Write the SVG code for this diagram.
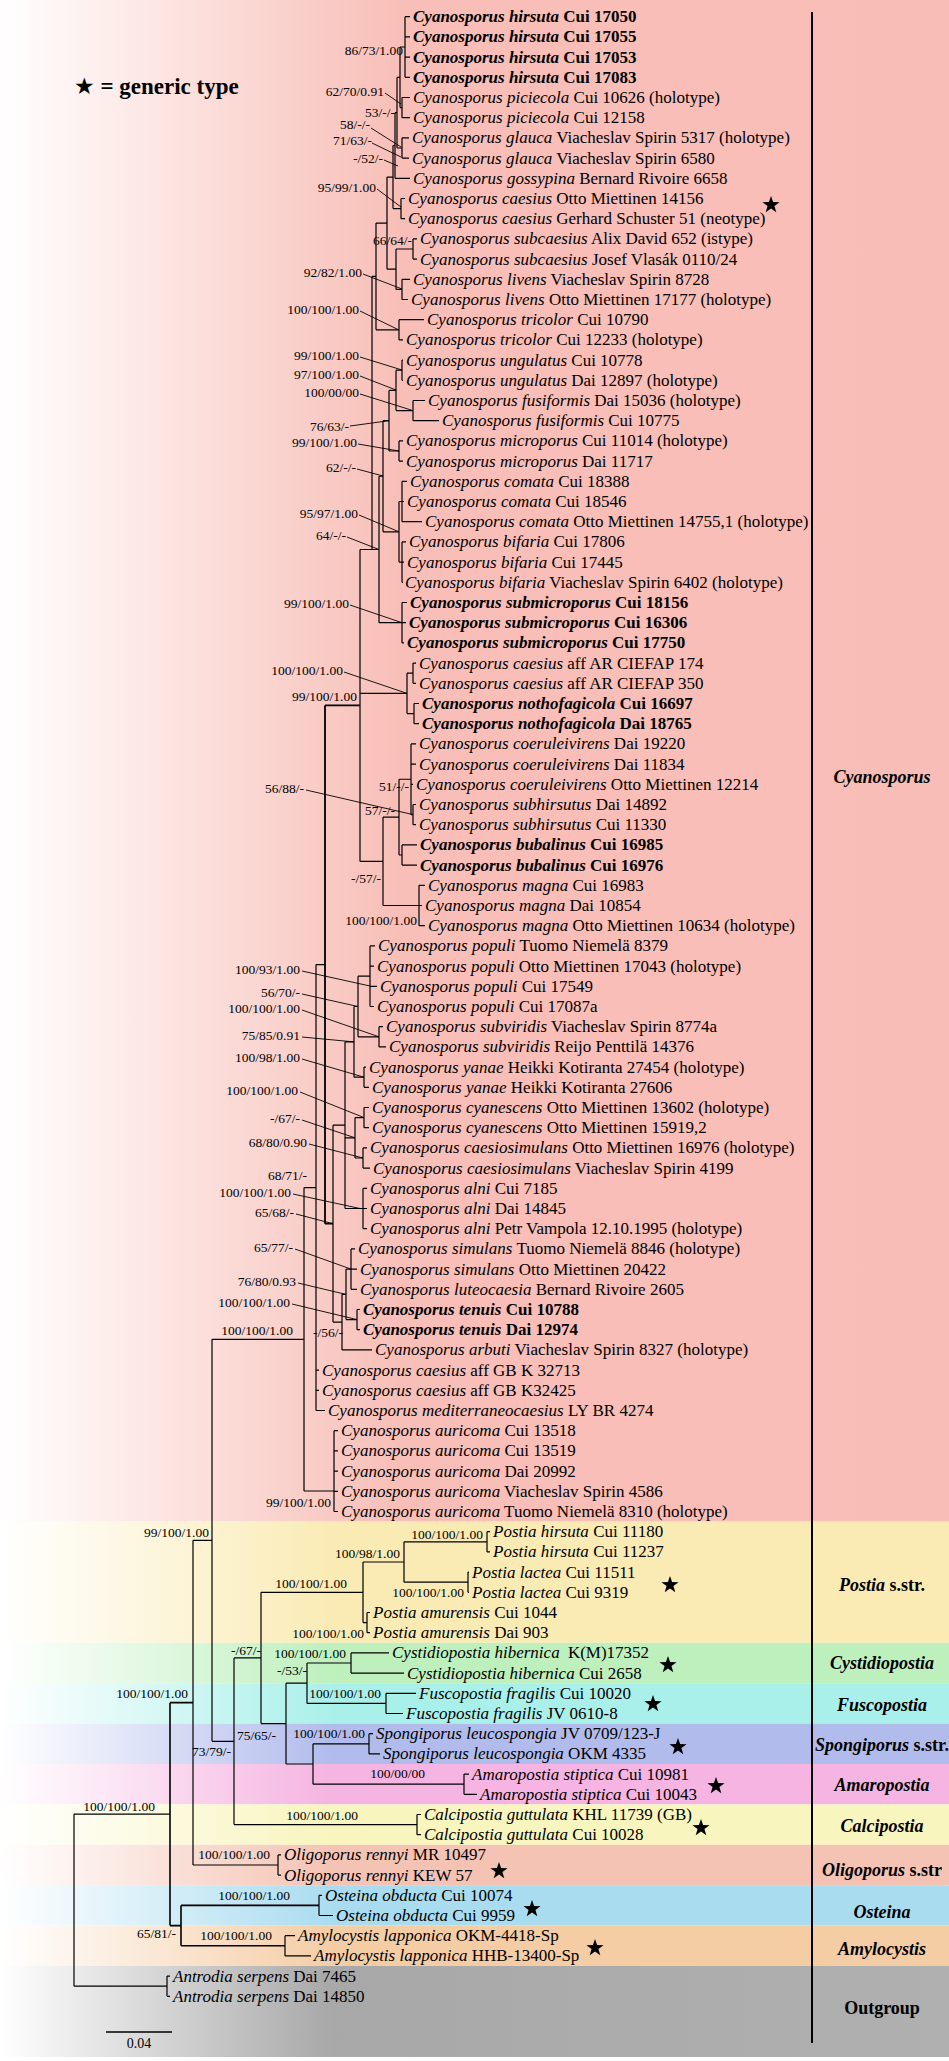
<svg xmlns="http://www.w3.org/2000/svg" width="949" height="2061" viewBox="0 0 949 2061">
<defs>
<linearGradient id="gCy" x1="0" y1="0" x2="1" y2="0"><stop offset="0" stop-color="#fff"/><stop offset="0.42" stop-color="#F8BFB8"/><stop offset="1" stop-color="#F8BDB6"/></linearGradient>
<linearGradient id="gPo" x1="0" y1="0" x2="1" y2="0"><stop offset="0" stop-color="#fff"/><stop offset="0.35" stop-color="#FAEBB5"/></linearGradient>
<linearGradient id="gCs" x1="0" y1="0" x2="1" y2="0"><stop offset="0" stop-color="#fff"/><stop offset="0.35" stop-color="#BEF0BE"/></linearGradient>
<linearGradient id="gFu" x1="0" y1="0" x2="1" y2="0"><stop offset="0" stop-color="#fff"/><stop offset="0.35" stop-color="#AAF0EA"/></linearGradient>
<linearGradient id="gSp" x1="0" y1="0" x2="1" y2="0"><stop offset="0" stop-color="#fff"/><stop offset="0.35" stop-color="#B2BCEC"/></linearGradient>
<linearGradient id="gAm" x1="0" y1="0" x2="1" y2="0"><stop offset="0" stop-color="#fff"/><stop offset="0.35" stop-color="#F5B4E1"/></linearGradient>
<linearGradient id="gCa" x1="0" y1="0" x2="1" y2="0"><stop offset="0" stop-color="#fff"/><stop offset="0.35" stop-color="#F8F5BE"/></linearGradient>
<linearGradient id="gOl" x1="0" y1="0" x2="1" y2="0"><stop offset="0" stop-color="#fff"/><stop offset="0.35" stop-color="#F5C3B4"/></linearGradient>
<linearGradient id="gOs" x1="0" y1="0" x2="1" y2="0"><stop offset="0" stop-color="#fff"/><stop offset="0.35" stop-color="#AADCF0"/></linearGradient>
<linearGradient id="gAy" x1="0" y1="0" x2="1" y2="0"><stop offset="0" stop-color="#fff"/><stop offset="0.35" stop-color="#F5CDA5"/></linearGradient>
<linearGradient id="gOu" x1="0" y1="0" x2="1" y2="0"><stop offset="0" stop-color="#fff"/><stop offset="0.35" stop-color="#A8A8A8"/><stop offset="1" stop-color="#B0B0B0"/></linearGradient>
<path id="star" d="M0,-9 L2.12,-2.91 L8.56,-2.78 L3.42,1.11 L5.29,7.28 L0,3.6 L-5.29,7.28 L-3.42,1.11 L-8.56,-2.78 L-2.12,-2.91Z" fill="#000"/>
<style>
.t{font-family:"Liberation Serif",serif;font-size:17px;fill:#000}
.tb{font-family:"Liberation Serif",serif;font-size:17px;font-weight:bold;fill:#000}
.i{font-style:italic}
.s{font-family:"Liberation Serif",serif;font-size:13.5px;fill:#000;text-anchor:end}
.g{font-family:"Liberation Serif",serif;font-size:18px;font-weight:bold;fill:#000;text-anchor:middle}
.br{fill:none;stroke:#000;stroke-width:1.2}
.ld{fill:none;stroke:#000;stroke-width:0.9}
</style>
</defs>

<g id="bands">
<rect x="0" y="0" width="949" height="1521.6" fill="url(#gCy)"/>
<rect x="0" y="1521.6" width="949" height="121.2" fill="url(#gPo)"/>
<rect x="0" y="1642.8" width="949" height="40.4" fill="url(#gCs)"/>
<rect x="0" y="1683.2" width="949" height="40.4" fill="url(#gFu)"/>
<rect x="0" y="1723.6" width="949" height="40.4" fill="url(#gSp)"/>
<rect x="0" y="1764" width="949" height="40.4" fill="url(#gAm)"/>
<rect x="0" y="1804.4" width="949" height="40.4" fill="url(#gCa)"/>
<rect x="0" y="1844.8" width="949" height="40.4" fill="url(#gOl)"/>
<rect x="0" y="1885.2" width="949" height="40.4" fill="url(#gOs)"/>
<rect x="0" y="1925.6" width="949" height="40.4" fill="url(#gAy)"/>
<rect x="0" y="1966" width="949" height="91" fill="url(#gOu)"/>
</g>

<g id="connectors" class="br">
<path d="M405 16.7V77.3M405 16.7H410M405 36.9H410M405 57.1H410M405 77.3H410"/>
<path d="M402 97.5V117.7M402 97.5H410M402 117.7H410"/>
<path d="M400 47V107.6M400 47H405M400 107.6H402"/>
<path d="M402 137.9V158.1M402 137.9H409M402 158.1H409"/>
<path d="M397 77.3V148M397 77.3H400M397 148H402"/>
<path d="M395 112.65V178.3M395 112.65H397M395 178.3H410"/>
<path d="M401 198.5V218.7M401 198.5H405M401 218.7H405"/>
<path d="M393 145.5V208.6M393 145.5H395M393 208.6H401"/>
<path d="M413 238.9V259.1M413 238.9H417M413 259.1H417"/>
<path d="M402 279.3V299.5M402 279.3H410M402 299.5H408"/>
<path d="M396 249V289.4M396 249H413M396 289.4H402"/>
<path d="M387 177.05V269.2M387 177.05H393M387 269.2H396"/>
<path d="M399 319.7V339.9M399 319.7H424M399 339.9H403"/>
<path d="M376 223.1V329.8M376 223.1H387M376 329.8H399"/>
<path d="M402 360.1V380.3M402 360.1H403M402 380.3H403"/>
<path d="M413 400.5V420.7M413 400.5H425M413 420.7H439"/>
<path d="M396 370.2V410.6M396 370.2H402M396 410.6H413"/>
<path d="M399 440.9V461.1M399 440.9H403M399 461.1H403"/>
<path d="M389 390.4V451M389 390.4H396M389 451H399"/>
<path d="M402 481.3V521.7M402 481.3H407M402 501.5H404M402 521.7H422"/>
<path d="M402 541.9V582.3M402 541.9H406M402 562.1H404M402 582.3H403"/>
<path d="M399 501.5V562.1M399 501.5H402M399 562.1H402"/>
<path d="M383 420.7V531.8M383 420.7H389M383 531.8H399"/>
<path d="M402 602.5V642.9M402 602.5H407M402 622.7H406M402 642.9H404"/>
<path d="M379 476.25V622.7M379 476.25H383M379 622.7H402"/>
<path d="M372 276.45V549.5M372 276.45H376"/>
<path d="M360 549.5V861.4M360 549.5H379M360 693.4H407M360 861.4H383"/>
<path d="M413 663.1V683.3M413 663.1H416M413 683.3H416"/>
<path d="M414 703.5V723.7M414 703.5H419M414 723.7H419"/>
<path d="M407 673.2V713.6M407 673.2H413M407 713.6H414"/>
<path d="M411 743.9V814.6M411 743.9H416M411 764.1H416M411 784.3H413M411 814.6H413"/>
<path d="M413 804.5V824.7M413 804.5H416M413 824.7H416"/>
<path d="M402 844.9V865.1M402 844.9H417M402 865.1H417"/>
<path d="M399 779.25V855M399 779.25H411M399 855H402"/>
<path d="M419 885.3V925.7M419 885.3H425M419 905.5H422M419 925.7H425"/>
<path d="M383 817.1V905.5M383 817.1H399M383 905.5H419"/>
<path d="M325 705.45V1223.7M325 705.45H360M325 1223.7H333" stroke-width="1.8"/>
<path d="M370 945.9V1006.5M370 945.9H375M370 966.1H374M370 986.3H377M370 1006.5H374"/>
<path d="M379 1026.7V1046.9M379 1026.7H383M379 1046.9H386"/>
<path d="M358 976.2V1036.8M358 976.2H370M358 1036.8H379"/>
<path d="M364 1067.1V1087.3M364 1067.1H366M364 1087.3H369"/>
<path d="M354 1006.5V1077.2M354 1006.5H358M354 1077.2H364"/>
<path d="M364 1107.5V1127.7M364 1107.5H369M364 1127.7H369"/>
<path d="M363 1147.9V1168.1M363 1147.9H367M363 1168.1H370"/>
<path d="M355 1117.6V1158M355 1117.6H364M355 1158H363"/>
<path d="M363 1188.3V1228.7M363 1188.3H367M363 1208.5H367M363 1228.7H367"/>
<path d="M345 1041.85V1208.5M345 1041.85H354M345 1137.8H355M345 1208.5H363"/>
<path d="M351 1248.9V1289.3M351 1248.9H355M351 1269.1H357M351 1289.3H357"/>
<path d="M357 1309.5V1329.7M357 1309.5H360M357 1329.7H360"/>
<path d="M346 1269.1V1319.6M346 1269.1H351M346 1319.6H357"/>
<path d="M342 1294.35V1349.9M342 1294.35H346M342 1349.9H372"/>
<path d="M333 1125.2V1322.1M333 1125.2H345M333 1322.1H342"/>
<path d="M316 964.6V1410.5M316 964.6H325M316 1370.1H319M316 1390.3H319M316 1410.5H325"/>
<path d="M334 1430.7V1511.5M334 1430.7H338M334 1450.9H338M334 1471.1H338M334 1491.3H338M334 1511.5H338"/>
<path d="M304 1187.55V1491M304 1187.55H316M304 1491H334"/>
<path d="M212 1339.3V1741.3M212 1339.3H304M212 1741.3H234"/>
<path d="M487 1531.7V1551.9M487 1531.7H490M487 1551.9H490"/>
<path d="M468 1572.1V1592.3M468 1572.1H469M468 1592.3H469"/>
<path d="M404 1541.8V1582.2M404 1541.8H487M404 1582.2H468"/>
<path d="M367 1612.5V1632.7M367 1612.5H370M367 1632.7H370"/>
<path d="M363 1562V1622.6M363 1562H404M363 1622.6H367"/>
<path d="M351 1652.9V1673.1M351 1652.9H389M351 1673.1H404"/>
<path d="M386 1693.3V1713.5M386 1693.3H416M386 1713.5H403"/>
<path d="M307 1663V1703.4M307 1663H351M307 1703.4H386"/>
<path d="M369 1733.7V1753.9M369 1733.7H373M369 1753.9H380"/>
<path d="M464 1774.1V1794.3M464 1774.1H469M464 1794.3H477"/>
<path d="M313 1743.8V1784.2M313 1743.8H369M313 1784.2H464"/>
<path d="M286 1683.2V1764M286 1683.2H307M286 1764H313"/>
<path d="M261 1592.3V1723.6M261 1592.3H363M261 1723.6H286"/>
<path d="M417 1814.5V1834.7M417 1814.5H421M417 1834.7H421"/>
<path d="M234 1657.95V1824.6M234 1657.95H261M234 1824.6H417"/>
<path d="M278 1854.9V1875.1M278 1854.9H281M278 1875.1H281"/>
<path d="M193 1540.3V1865M193 1540.3H212M193 1865H278"/>
<path d="M319 1895.3V1915.5M319 1895.3H322M319 1915.5H333"/>
<path d="M285 1935.7V1955.9M285 1935.7H295M285 1955.9H311"/>
<path d="M181 1905.4V1945.8M181 1905.4H319M181 1945.8H285" stroke-width="1.6"/>
<path d="M170 1702.65V1925.6M170 1702.65H193M170 1925.6H181" stroke-width="1.6"/>
<path d="M167 1976.1V1996.3M167 1976.1H170M167 1996.3H170"/>
<path d="M74 1814.1V1986.2M74 1814.1H170M74 1986.2H167"/>
</g>

<g id="leaders" class="ld">
<path d="M385 93L401 104M371 128L401 147M372 143L401 157M384 160L398 166M377 189L401 207M363 274L402 289M360 311L399 330M360 357L402 370M360 376L396 390M360 394L413 410.6M350 426L389 420.7M358 444L399 451M357 469L383 476M359 515L399 531.8M347 537L379 549.5M350 605L402 622.7M344 672L407 693.4M306 790L413 814.6"/>
<path d="M302 971L370 986M302 994L358 1006.5M302 1010L379 1036.8M302 1037L354 1041.9M302 1059L364 1077.2M300 1092L364 1117.6M302 1120L355 1137.8M309 1144L363 1158M293 1194L360 1208.5M296 1214L333 1223.7M295 1249L351 1269.1M298 1283L346 1294.4M292 1304L357 1319.6"/>
</g>

<g id="support">
<text class="s" x="403" y="54.5">86/73/1.00</text>
<text class="s" x="384" y="95.5">62/70/0.91</text>
<text class="s" x="395" y="116.5">53/-/-</text>
<text class="s" x="370" y="129">58/-/-</text>
<text class="s" x="372" y="145">71/63/-</text>
<text class="s" x="383" y="163">-/52/-</text>
<text class="s" x="376" y="191.5">95/99/1.00</text>
<text class="s" x="412" y="244.5">66/64/-</text>
<text class="s" x="362" y="276.5">92/82/1.00</text>
<text class="s" x="359" y="313.5">100/100/1.00</text>
<text class="s" x="359" y="359.5">99/100/1.00</text>
<text class="s" x="359" y="378.5">97/100/1.00</text>
<text class="s" x="359" y="396.5">100/00/00</text>
<text class="s" x="349" y="430.5">76/63/-</text>
<text class="s" x="357" y="446.5">99/100/1.00</text>
<text class="s" x="356" y="471.5">62/-/-</text>
<text class="s" x="358" y="517.5">95/97/1.00</text>
<text class="s" x="346" y="539.5">64/-/-</text>
<text class="s" x="349" y="607.5">99/100/1.00</text>
<text class="s" x="343" y="674.5">100/100/1.00</text>
<text class="s" x="357" y="701">99/100/1.00</text>
<text class="s" x="409" y="791">51/-/-</text>
<text class="s" x="304" y="792.5">56/88/-</text>
<text class="s" x="395" y="815">57/-/-</text>
<text class="s" x="381" y="882.5">-/57/-</text>
<text class="s" x="417" y="924.5">100/100/1.00</text>
<text class="s" x="300" y="973.5">100/93/1.00</text>
<text class="s" x="300" y="996.5">56/70/-</text>
<text class="s" x="300" y="1012.5">100/100/1.00</text>
<text class="s" x="300" y="1039.5">75/85/0.91</text>
<text class="s" x="300" y="1061.5">100/98/1.00</text>
<text class="s" x="298" y="1094.5">100/100/1.00</text>
<text class="s" x="300" y="1122.5">-/67/-</text>
<text class="s" x="307" y="1146.5">68/80/0.90</text>
<text class="s" x="307" y="1179.5">68/71/-</text>
<text class="s" x="291" y="1196.5">100/100/1.00</text>
<text class="s" x="294" y="1216.5">65/68/-</text>
<text class="s" x="293" y="1251.5">65/77/-</text>
<text class="s" x="296" y="1285.5">76/80/0.93</text>
<text class="s" x="290" y="1306.5">100/100/1.00</text>
<text class="s" x="293" y="1334.5">100/100/1.00</text>
<text class="s" x="343" y="1336.5">-/56/-</text>
<text class="s" x="331" y="1506.5">99/100/1.00</text>
<text class="s" x="209" y="1536.5">99/100/1.00</text>
<text class="s" x="483" y="1538.5">100/100/1.00</text>
<text class="s" x="400" y="1557.5">100/98/1.00</text>
<text class="s" x="347" y="1587.5">100/100/1.00</text>
<text class="s" x="464" y="1596.5">100/100/1.00</text>
<text class="s" x="364" y="1637.5">100/100/1.00</text>
<text class="s" x="346" y="1657.5">100/100/1.00</text>
<text class="s" x="261" y="1654.5">-/67/-</text>
<text class="s" x="307" y="1674.5">-/53/-</text>
<text class="s" x="188" y="1697.5">100/100/1.00</text>
<text class="s" x="381" y="1697.5">100/100/1.00</text>
<text class="s" x="365" y="1737.5">100/100/1.00</text>
<text class="s" x="276" y="1739.5">75/65/-</text>
<text class="s" x="231" y="1755.5">73/79/-</text>
<text class="s" x="425" y="1777.5">100/00/00</text>
<text class="s" x="155" y="1810.5">100/100/1.00</text>
<text class="s" x="358" y="1819.5">100/100/1.00</text>
<text class="s" x="270" y="1858.5">100/100/1.00</text>
<text class="s" x="290" y="1899.5">100/100/1.00</text>
<text class="s" x="176" y="1937.5">65/81/-</text>
<text class="s" x="272" y="1939.5">100/100/1.00</text>
</g>

<g id="leaves">
<text class="tb" x="413" y="22.2"><tspan class="i">Cyanosporus hirsuta</tspan> Cui 17050</text>
<text class="tb" x="413" y="42.4"><tspan class="i">Cyanosporus hirsuta</tspan> Cui 17055</text>
<text class="tb" x="413" y="62.6"><tspan class="i">Cyanosporus hirsuta</tspan> Cui 17053</text>
<text class="tb" x="413" y="82.8"><tspan class="i">Cyanosporus hirsuta</tspan> Cui 17083</text>
<text class="t" x="413" y="103"><tspan class="i">Cyanosporus piciecola</tspan> Cui 10626 (holotype)</text>
<text class="t" x="413" y="123.2"><tspan class="i">Cyanosporus piciecola</tspan> Cui 12158</text>
<text class="t" x="412" y="143.4"><tspan class="i">Cyanosporus glauca</tspan> Viacheslav Spirin 5317 (holotype)</text>
<text class="t" x="412" y="163.6"><tspan class="i">Cyanosporus glauca</tspan> Viacheslav Spirin 6580</text>
<text class="t" x="413" y="183.8"><tspan class="i">Cyanosporus gossypina</tspan> Bernard Rivoire 6658</text>
<text class="t" x="408" y="204"><tspan class="i">Cyanosporus caesius</tspan> Otto Miettinen 14156</text>
<text class="t" x="408" y="224.2"><tspan class="i">Cyanosporus caesius</tspan> Gerhard Schuster 51 (neotype)</text>
<text class="t" x="420" y="244.4"><tspan class="i">Cyanosporus subcaesius</tspan> Alix David 652 (istype)</text>
<text class="t" x="420" y="264.6"><tspan class="i">Cyanosporus subcaesius</tspan> Josef Vlasák 0110/24</text>
<text class="t" x="413" y="284.8"><tspan class="i">Cyanosporus livens</tspan> Viacheslav Spirin 8728</text>
<text class="t" x="411" y="305"><tspan class="i">Cyanosporus livens</tspan> Otto Miettinen 17177 (holotype)</text>
<text class="t" x="427" y="325.2"><tspan class="i">Cyanosporus tricolor</tspan> Cui 10790</text>
<text class="t" x="406" y="345.4"><tspan class="i">Cyanosporus tricolor</tspan> Cui 12233 (holotype)</text>
<text class="t" x="406" y="365.6"><tspan class="i">Cyanosporus ungulatus</tspan> Cui 10778</text>
<text class="t" x="406" y="385.8"><tspan class="i">Cyanosporus ungulatus</tspan> Dai 12897 (holotype)</text>
<text class="t" x="428" y="406"><tspan class="i">Cyanosporus fusiformis</tspan> Dai 15036 (holotype)</text>
<text class="t" x="442" y="426.2"><tspan class="i">Cyanosporus fusiformis</tspan> Cui 10775</text>
<text class="t" x="406" y="446.4"><tspan class="i">Cyanosporus microporus</tspan> Cui 11014 (holotype)</text>
<text class="t" x="406" y="466.6"><tspan class="i">Cyanosporus microporus</tspan> Dai 11717</text>
<text class="t" x="410" y="486.8"><tspan class="i">Cyanosporus comata</tspan> Cui 18388</text>
<text class="t" x="407" y="507"><tspan class="i">Cyanosporus comata</tspan> Cui 18546</text>
<text class="t" x="425" y="527.2"><tspan class="i">Cyanosporus comata</tspan> Otto Miettinen 14755,1 (holotype)</text>
<text class="t" x="409" y="547.4"><tspan class="i">Cyanosporus bifaria</tspan> Cui 17806</text>
<text class="t" x="407" y="567.6"><tspan class="i">Cyanosporus bifaria</tspan> Cui 17445</text>
<text class="t" x="405" y="587.8"><tspan class="i">Cyanosporus bifaria</tspan> Viacheslav Spirin 6402 (holotype)</text>
<text class="tb" x="410" y="608"><tspan class="i">Cyanosporus submicroporus</tspan> Cui 18156</text>
<text class="tb" x="409" y="628.2"><tspan class="i">Cyanosporus submicroporus</tspan> Cui 16306</text>
<text class="tb" x="407" y="648.4"><tspan class="i">Cyanosporus submicroporus</tspan> Cui 17750</text>
<text class="t" x="419" y="668.6"><tspan class="i">Cyanosporus caesius</tspan> aff AR CIEFAP 174</text>
<text class="t" x="419" y="688.8"><tspan class="i">Cyanosporus caesius</tspan> aff AR CIEFAP 350</text>
<text class="tb" x="422" y="709"><tspan class="i">Cyanosporus nothofagicola</tspan> Cui 16697</text>
<text class="tb" x="422" y="729.2"><tspan class="i">Cyanosporus nothofagicola</tspan> Dai 18765</text>
<text class="t" x="419" y="749.4"><tspan class="i">Cyanosporus coeruleivirens</tspan> Dai 19220</text>
<text class="t" x="419" y="769.6"><tspan class="i">Cyanosporus coeruleivirens</tspan> Dai 11834</text>
<text class="t" x="416" y="789.8"><tspan class="i">Cyanosporus coeruleivirens</tspan> Otto Miettinen 12214</text>
<text class="t" x="419" y="810"><tspan class="i">Cyanosporus subhirsutus</tspan> Dai 14892</text>
<text class="t" x="419" y="830.2"><tspan class="i">Cyanosporus subhirsutus</tspan> Cui 11330</text>
<text class="tb" x="420" y="850.4"><tspan class="i">Cyanosporus bubalinus</tspan> Cui 16985</text>
<text class="tb" x="420" y="870.6"><tspan class="i">Cyanosporus bubalinus</tspan> Cui 16976</text>
<text class="t" x="428" y="890.8"><tspan class="i">Cyanosporus magna</tspan> Cui 16983</text>
<text class="t" x="425" y="911"><tspan class="i">Cyanosporus magna</tspan> Dai 10854</text>
<text class="t" x="428" y="931.2"><tspan class="i">Cyanosporus magna</tspan> Otto Miettinen 10634 (holotype)</text>
<text class="t" x="378" y="951.4"><tspan class="i">Cyanosporus populi</tspan> Tuomo Niemelä 8379</text>
<text class="t" x="377" y="971.6"><tspan class="i">Cyanosporus populi</tspan> Otto Miettinen 17043 (holotype)</text>
<text class="t" x="380" y="991.8"><tspan class="i">Cyanosporus populi</tspan> Cui 17549</text>
<text class="t" x="377" y="1012"><tspan class="i">Cyanosporus populi</tspan> Cui 17087a</text>
<text class="t" x="386" y="1032.2"><tspan class="i">Cyanosporus subviridis</tspan> Viacheslav Spirin 8774a</text>
<text class="t" x="389" y="1052.4"><tspan class="i">Cyanosporus subviridis</tspan> Reijo Penttilä 14376</text>
<text class="t" x="369" y="1072.6"><tspan class="i">Cyanosporus yanae</tspan> Heikki Kotiranta 27454 (holotype)</text>
<text class="t" x="372" y="1092.8"><tspan class="i">Cyanosporus yanae</tspan> Heikki Kotiranta 27606</text>
<text class="t" x="372" y="1113"><tspan class="i">Cyanosporus cyanescens</tspan> Otto Miettinen 13602 (holotype)</text>
<text class="t" x="372" y="1133.2"><tspan class="i">Cyanosporus cyanescens</tspan> Otto Miettinen 15919,2</text>
<text class="t" x="370" y="1153.4"><tspan class="i">Cyanosporus caesiosimulans</tspan> Otto Miettinen 16976 (holotype)</text>
<text class="t" x="373" y="1173.6"><tspan class="i">Cyanosporus caesiosimulans</tspan> Viacheslav Spirin 4199</text>
<text class="t" x="370" y="1193.8"><tspan class="i">Cyanosporus alni</tspan> Cui 7185</text>
<text class="t" x="370" y="1214"><tspan class="i">Cyanosporus alni</tspan> Dai 14845</text>
<text class="t" x="370" y="1234.2"><tspan class="i">Cyanosporus alni</tspan> Petr Vampola 12.10.1995 (holotype)</text>
<text class="t" x="358" y="1254.4"><tspan class="i">Cyanosporus simulans</tspan> Tuomo Niemelä 8846 (holotype)</text>
<text class="t" x="360" y="1274.6"><tspan class="i">Cyanosporus simulans</tspan> Otto Miettinen 20422</text>
<text class="t" x="360" y="1294.8"><tspan class="i">Cyanosporus luteocaesia</tspan> Bernard Rivoire 2605</text>
<text class="tb" x="363" y="1315"><tspan class="i">Cyanosporus tenuis</tspan> Cui 10788</text>
<text class="tb" x="363" y="1335.2"><tspan class="i">Cyanosporus tenuis</tspan> Dai 12974</text>
<text class="t" x="375" y="1355.4"><tspan class="i">Cyanosporus arbuti</tspan> Viacheslav Spirin 8327 (holotype)</text>
<text class="t" x="322" y="1375.6"><tspan class="i">Cyanosporus caesius</tspan> aff GB K 32713</text>
<text class="t" x="322" y="1395.8"><tspan class="i">Cyanosporus caesius</tspan> aff GB K32425</text>
<text class="t" x="328" y="1416"><tspan class="i">Cyanosporus mediterraneocaesius</tspan> LY BR 4274</text>
<text class="t" x="341" y="1436.2"><tspan class="i">Cyanosporus auricoma</tspan> Cui 13518</text>
<text class="t" x="341" y="1456.4"><tspan class="i">Cyanosporus auricoma</tspan> Cui 13519</text>
<text class="t" x="341" y="1476.6"><tspan class="i">Cyanosporus auricoma</tspan> Dai 20992</text>
<text class="t" x="341" y="1496.8"><tspan class="i">Cyanosporus auricoma</tspan> Viacheslav Spirin 4586</text>
<text class="t" x="341" y="1517"><tspan class="i">Cyanosporus auricoma</tspan> Tuomo Niemelä 8310 (holotype)</text>
<text class="t" x="493" y="1537.2"><tspan class="i">Postia hirsuta</tspan> Cui 11180</text>
<text class="t" x="493" y="1557.4"><tspan class="i">Postia hirsuta</tspan> Cui 11237</text>
<text class="t" x="472" y="1577.6"><tspan class="i">Postia lactea</tspan> Cui 11511</text>
<text class="t" x="472" y="1597.8"><tspan class="i">Postia lactea</tspan> Cui 9319</text>
<text class="t" x="373" y="1618"><tspan class="i">Postia amurensis</tspan> Cui 1044</text>
<text class="t" x="373" y="1638.2"><tspan class="i">Postia amurensis</tspan> Dai 903</text>
<text class="t" x="392" y="1658.4"><tspan class="i">Cystidiopostia hibernica</tspan><tspan dx="4"> K(M)17352</tspan></text>
<text class="t" x="407" y="1678.6"><tspan class="i">Cystidiopostia hibernica</tspan> Cui 2658</text>
<text class="t" x="419" y="1698.8"><tspan class="i">Fuscopostia fragilis</tspan> Cui 10020</text>
<text class="t" x="406" y="1719"><tspan class="i">Fuscopostia fragilis</tspan> JV 0610-8</text>
<text class="t" x="376" y="1739.2"><tspan class="i">Spongiporus leucospongia</tspan> JV 0709/123-J</text>
<text class="t" x="383" y="1759.4"><tspan class="i">Spongiporus leucospongia</tspan> OKM 4335</text>
<text class="t" x="472" y="1779.6"><tspan class="i">Amaropostia stiptica</tspan> Cui 10981</text>
<text class="t" x="480" y="1799.8"><tspan class="i">Amaropostia stiptica</tspan> Cui 10043</text>
<text class="t" x="424" y="1820"><tspan class="i">Calcipostia guttulata</tspan> KHL 11739 (GB)</text>
<text class="t" x="424" y="1840.2"><tspan class="i">Calcipostia guttulata</tspan> Cui 10028</text>
<text class="t" x="284" y="1860.4"><tspan class="i">Oligoporus rennyi</tspan> MR 10497</text>
<text class="t" x="284" y="1880.6"><tspan class="i">Oligoporus rennyi</tspan> KEW 57</text>
<text class="t" x="325" y="1900.8"><tspan class="i">Osteina obducta</tspan> Cui 10074</text>
<text class="t" x="336" y="1921"><tspan class="i">Osteina obducta</tspan> Cui 9959</text>
<text class="t" x="298" y="1941.2"><tspan class="i">Amylocystis lapponica</tspan> OKM-4418-Sp</text>
<text class="t" x="314" y="1961.4"><tspan class="i">Amylocystis lapponica</tspan> HHB-13400-Sp</text>
<text class="t" x="173" y="1981.6"><tspan class="i">Antrodia serpens</tspan> Dai 7465</text>
<text class="t" x="173" y="2001.8"><tspan class="i">Antrodia serpens</tspan> Dai 14850</text>
</g>

<g id="stars">
<use href="#star" x="771" y="205"/>
<use href="#star" x="670" y="1585"/>
<use href="#star" x="668" y="1665"/>
<use href="#star" x="653" y="1704"/>
<use href="#star" x="678" y="1747"/>
<use href="#star" x="716" y="1786"/>
<use href="#star" x="701" y="1828"/>
<use href="#star" x="499" y="1871"/>
<use href="#star" x="532" y="1909"/>
<use href="#star" x="595" y="1948"/>
</g>

<g id="groups">
<line x1="812" y1="12" x2="812" y2="2043" stroke="#000" stroke-width="2"/>
<text class="g" x="882" y="783"><tspan class="i">Cyanosporus</tspan></text>
<text class="g" x="882" y="1591"><tspan class="i">Postia</tspan> s.str.</text>
<text class="g" x="882" y="1669"><tspan class="i">Cystidiopostia</tspan></text>
<text class="g" x="882" y="1711"><tspan class="i">Fuscopostia</tspan></text>
<text class="g" x="882" y="1751"><tspan class="i">Spongiporus</tspan> s.str.</text>
<text class="g" x="882" y="1791"><tspan class="i">Amaropostia</tspan></text>
<text class="g" x="882" y="1832"><tspan class="i">Calcipostia</tspan></text>
<text class="g" x="882" y="1876"><tspan class="i">Oligoporus</tspan> s.str</text>
<text class="g" x="882" y="1918"><tspan class="i">Osteina</tspan></text>
<text class="g" x="882" y="1955"><tspan class="i">Amylocystis</tspan></text>
<text class="g" x="882" y="2014">Outgroup</text>
</g>

<g id="legend">
<text x="74" y="94" style="font-family:'Liberation Serif',serif;font-size:23px;font-weight:bold"><tspan style="font-family:'DejaVu Sans',sans-serif;font-size:23px">★</tspan> = generic type</text>
</g>

<g id="scale">
<line x1="106" y1="2032" x2="172" y2="2032" stroke="#000" stroke-width="1.3"/>
<text x="139" y="2048" style="font-family:'Liberation Serif',serif;font-size:14px;text-anchor:middle">0.04</text>
</g>
</svg>
